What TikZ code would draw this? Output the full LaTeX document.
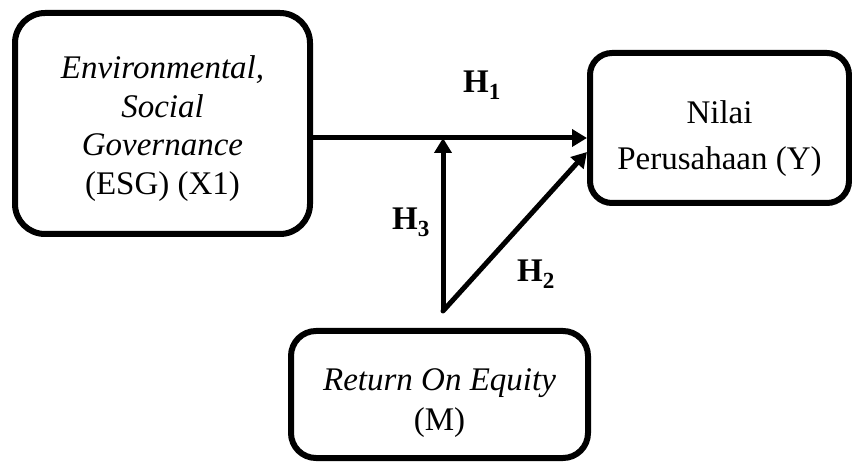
\documentclass[tikz,border=0pt]{standalone}
\usepackage{fontspec}
\setmainfont{Liberation Serif}
\usetikzlibrary{arrows.meta}
\tikzset{
  boxnode/.style={draw=black, line width=6pt, inner sep=0pt},
  txt/.style={align=center, inner sep=0pt},
  arr/.style={line width=5pt, -{Triangle[length=15pt,width=17pt]}},
  hlabel/.style={anchor=base west, inner sep=0pt, font=\fontsize{33}{38}\selectfont\bfseries}
}
\begin{document}
\begin{tikzpicture}[x=1pt,y=-1pt]
\useasboundingbox (0,0) rectangle (852,462);
\node[boxnode, rounded corners=30pt, minimum width=295pt, minimum height=221pt] (esg) at (162.5,123.5) {};
\node[txt, font=\fontsize{33}{38.5}\selectfont] (esgtxt) at ([yshift=-5pt]esg.center)
  {\textit{Environmental,}\\ \textit{Social}\\ \textit{Governance}\\ (ESG) (X1)};
\node[boxnode, rounded corners=22pt, minimum width=259pt, minimum height=150pt] (nilai) at (719.5,128) {};
\node[txt, font=\fontsize{33}{46}\selectfont] (nilaitxt) at ([yshift=-11pt]nilai.center)
  {Nilai\\ Perusahaan (Y)};
\node[boxnode, rounded corners=25pt, minimum width=297pt, minimum height=127pt] (roe) at (439.5,394.5) {};
\node[txt, font=\fontsize{33}{40}\selectfont] (roetxt) at ([yshift=-9pt]roe.center)
  {\textit{Return On Equity}\\ (M)};
\coordinate (hy) at (0,138);
\coordinate (m) at (443,311);
\coordinate (d) at (0,152);
\draw[arr] (esg.east |- hy) -- (nilai.west |- hy);
\draw[arr] (m) -- (m |- hy);
\draw[arr, line cap=round] (m) -- (nilai.west |- d);
\node[hlabel] (h1) at (463,93) {H\textsubscript{1}};
\node[hlabel] (h3) at (392,230) {H\textsubscript{3}};
\node[hlabel] (h2) at (517,282) {H\textsubscript{2}};
\end{tikzpicture}
\end{document}
